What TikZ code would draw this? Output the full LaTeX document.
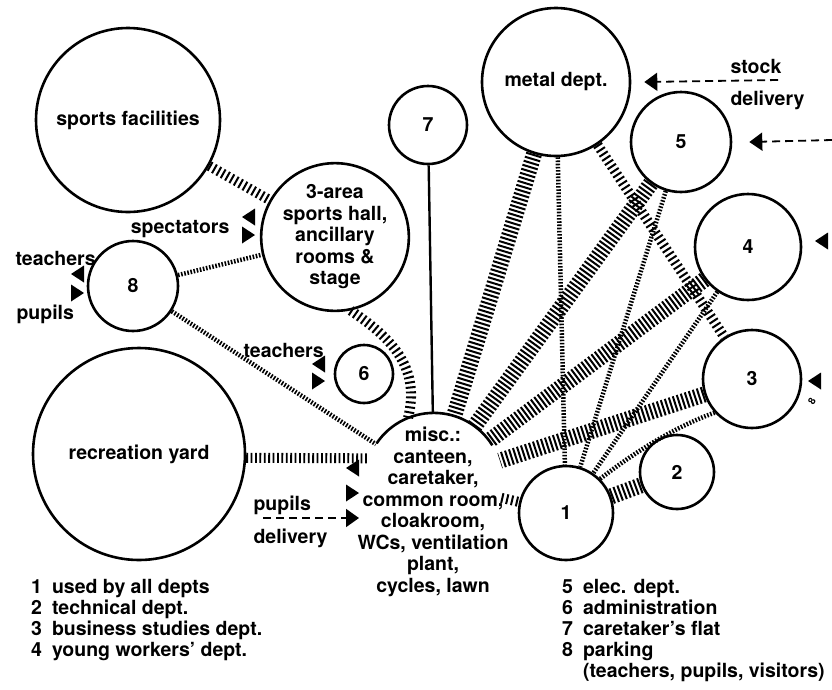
\documentclass[tikz,border=0pt]{standalone}
\usepackage{fontspec}
\setmainfont{TeX Gyre Heros}
\usetikzlibrary{arrows.meta}
\newcommand{\markin}[1]{\fill (#1) -- ++(13,-8.5) -- ++(0,17) -- cycle;}
\newcommand{\markout}[1]{\fill (#1) -- ++(-13,-8.5) -- ++(0,17) -- cycle;}

\begin{document}
\begin{tikzpicture}[x=1pt,y=-1pt,
  every node/.style={font=\fontsize{19.5}{21.5}\selectfont\bfseries},
  room/.style={circle,draw,line width=2.6pt,inner sep=0pt,align=center},
  keytext/.style={anchor=base west,inner sep=0pt,font=\fontsize{19.5}{21}\selectfont\bfseries},
  wideband/.style={line width=16pt,dash pattern=on 2pt off 2.2pt},
  midband/.style={line width=10pt,dash pattern=on 2pt off 3pt},
  dotband/.style={line width=4.5pt,dash pattern=on 1.6pt off 1.6pt},
  feed/.style={line width=1.8pt,dash pattern=on 8pt off 5pt,-{Triangle[width=18pt,length=13pt]}}]
\useasboundingbox (0,0) rectangle (832,689);

\node[room,minimum size=184pt] (sports) at (128,120) {sports facilities};
\node[room,minimum size=142pt] (hall) at (335,237) {3-area\\sports hall,\\ancillary\\rooms \&\\stage};
\node[room,minimum size=90pt] (park) at (133,286) {8};
\node[room,minimum size=78pt] (caret) at (428,125) {7};
\node[room,minimum size=148pt] (metal) at (556,82) {metal dept.};
\node[room,minimum size=100pt] (elec) at (681,142) {5};
\node[room,minimum size=106pt] (young) at (748,247) {4};
\node[room,minimum size=98pt] (business) at (752,379) {3};
\node[room,minimum size=74pt] (tech) at (677,472) {2};
\node[room,minimum size=94pt] (shared) at (566,513) {1};
\node[room,minimum size=58pt] (admin) at (364,374) {6};
\node[room,minimum size=212pt] (yard) at (139,454) {recreation yard};
\node[circle,inner sep=0pt,minimum size=138pt] (misc) at (434,482) {};
\draw[line width=2.6pt] (misc.146) arc[start angle=146,end angle=32,radius=69pt];
\node[align=center] (misctext) at (433,512) {misc.:\\canteen,\\caretaker,\\common room,\\cloakroom,\\WCs, ventilation\\plant,\\cycles, lawn};

\draw[midband] (sports) -- (hall);
\draw[dotband] (park) -- (hall);
\draw[dotband] (park) -- (misc);
\draw[midband] (hall.-78) .. controls (395,340) and (420,370) .. (misc.112);
\draw[line width=2.4pt] (caret) -- (misc);
\draw[midband,dash pattern=on 1.8pt off 2.6pt] (yard.-2) -- (misc.160);
\draw[wideband] (metal) -- (misc);
\draw[wideband] (elec) -- (misc);
\draw[wideband] (young) -- (misc);
\draw[wideband] (business) -- (misc);
\draw[midband] (metal) -- (business);
\draw[dotband] (metal) -- (shared);
\draw[dotband] (elec) -- (shared);
\draw[dotband] (young) -- (shared);
\draw[dotband] (shared.45) .. controls (640,448) and (680,425) .. (business.222);
\draw[wideband] (shared) -- (tech);
\draw[midband] (misc) -- (shared);

\node[anchor=base east] (spectlabel) at (233,233) {spectators};
\markin{242,217}
\markout{255,235}
\node[anchor=base west] (teachlabel) at (12,265) {teachers};
\node[anchor=base west] (pupillabel) at (13,319) {pupils};
\markin{71,274}
\markout{84,293}
\node[anchor=base west] (stafflabel) at (240,357) {teachers};
\markin{312,364}
\markout{325,381}
\node[anchor=base west] (pupdlabel) at (250,510) {pupils};
\node[anchor=base west] (deldlabel) at (250,543) {delivery};
\markin{346,468}
\markout{359,493}
\coordinate (pupilsin) at (263,518);
\coordinate (pupilstip) at (359,518);
\draw[feed] (pupilsin) -- (pupilstip);

\node[anchor=base west] (stocklabel) at (727,73) {stock};
\node[anchor=base west] (stockdlabel) at (727,105) {delivery};
\coordinate (stockin) at (778,80);
\draw[feed] (stockin) -- ([xshift=13pt]metal.east);
\coordinate (elecin) at (832,140);
\draw[feed] (elecin) -- ([xshift=17pt]elec.east);
\markin{815,241}
\markin{808,381}
\node[rotate=60,font=\fontsize{10}{10}\selectfont\bfseries] (parkmark) at (812,401) {8};

\node[keytext] (keyleft) at (31,593) {\begin{tabular}[t]{@{}l@{\hspace{10pt}}l@{}}
1 & used by all depts\\
2 & technical dept.\\
3 & business studies dept.\\
4 & young workers' dept.\end{tabular}};
\node[keytext] (keyright) at (562,593) {\begin{tabular}[t]{@{}l@{\hspace{10pt}}l@{}}
5 & elec. dept.\\
6 & administration\\
7 & caretaker's flat\\
8 & parking\\
 & (teachers, pupils, visitors)\end{tabular}};
\end{tikzpicture}
\end{document}
